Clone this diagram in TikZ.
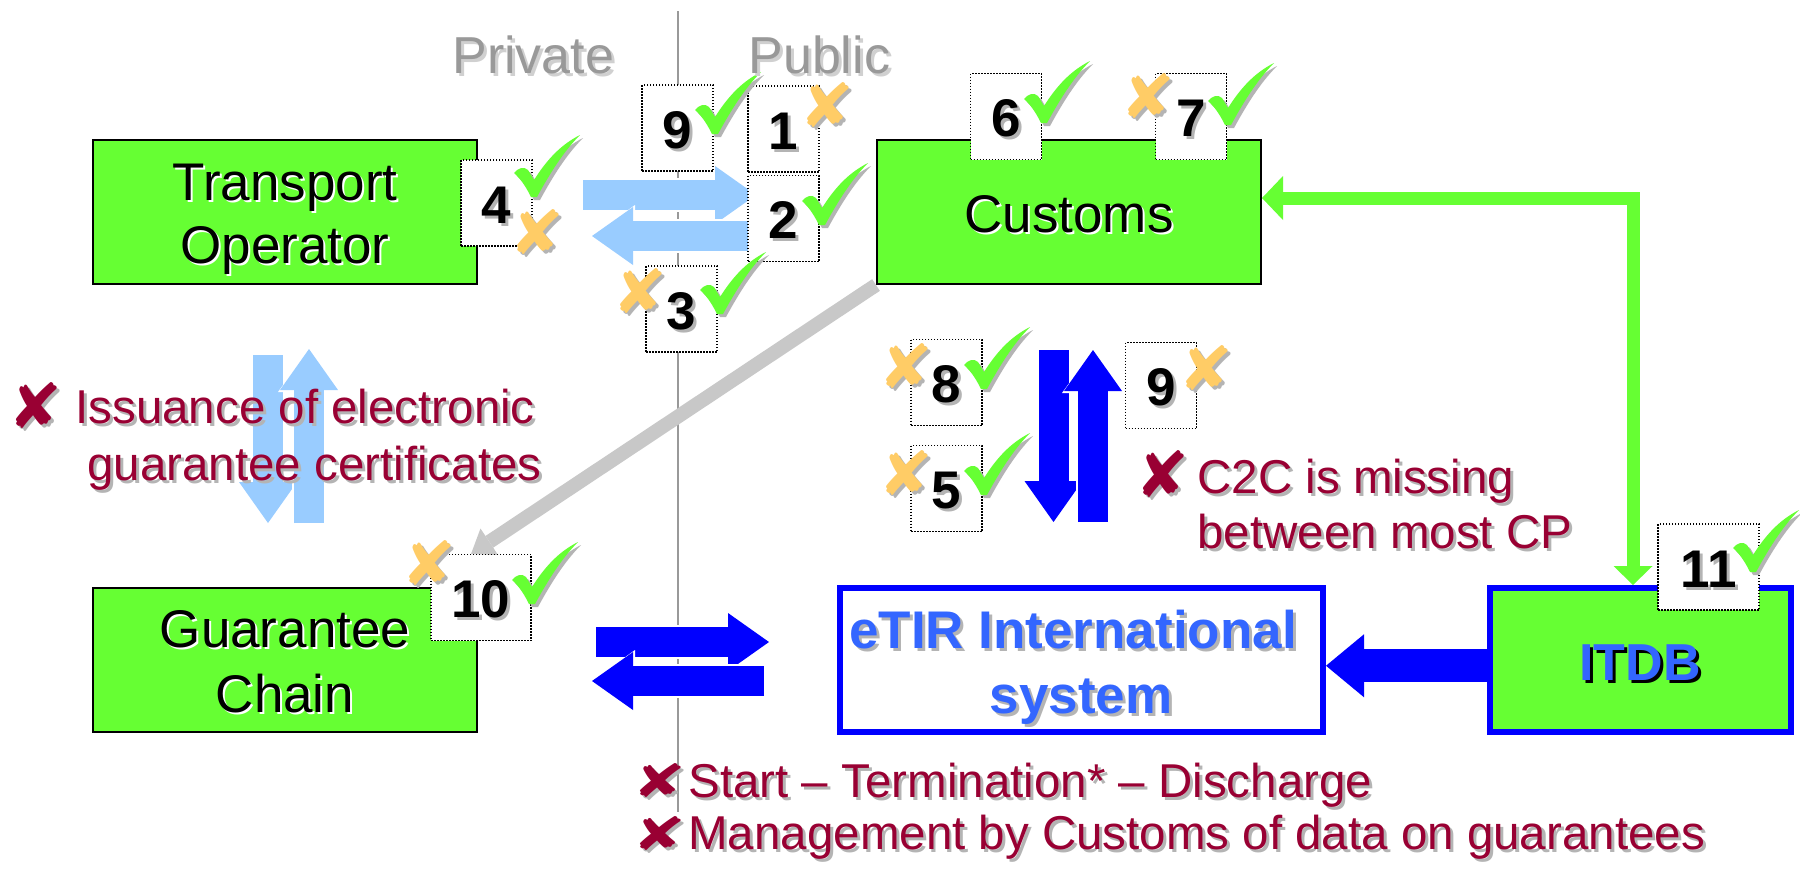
\documentclass[tikz,border=0pt]{standalone}
\usepackage{fontspec}
\setmainfont{Liberation Sans}
\newfontfamily\dejavu{DejaVu Sans}
\usetikzlibrary{arrows.meta,calc}
\definecolor{boxgreen}{HTML}{66FF33}
\definecolor{lblue}{HTML}{99CCFF}
\definecolor{dblue}{HTML}{0000FF}
\definecolor{tblue}{HTML}{3366FF}
\definecolor{wine}{HTML}{990033}
\definecolor{xorange}{HTML}{FFCC66}
\definecolor{shgray}{HTML}{B4B4B4}
\definecolor{divgray}{HTML}{999999}
\definecolor{lightsh}{HTML}{D0D0D0}
\definecolor{diaggray}{HTML}{C8C8C8}
\newcommand\shtext[3]{\leavevmode\rlap{\kern#2\raisebox{-#2}{\textcolor{#1}{#3}}}#3}
\newcommand\numfont{\fontsize{26.5pt}{30pt}\selectfont\bfseries}
\newcommand\xmark[6]{%
  \node[xm,text=shgray] (#1s) at ($(#2,#3)+(0,3)$) {\resizebox{#5}{#6}{\dejavu\bfseries ✘}};
  \node[xm,text=#4] (#1) at ($(#2,#3)+(-3,0)$) {\resizebox{#5}{#6}{\dejavu\bfseries ✘}};}
\begin{document}
\begin{tikzpicture}[x=0.5pt,y=-0.5pt,
  greenbox/.style={draw=black,line width=1pt,fill=boxgreen,inner sep=0,minimum width=192pt,minimum height=72pt},
  bluebox/.style={draw=dblue,line width=3pt,inner sep=0,minimum height=71.75pt},
  numbox/.style={draw=black,line width=0.9pt,dash pattern=on 0.75pt off 0.75pt,fill=white,inner sep=0,minimum width=35.5pt,minimum height=43pt,text height=20pt,text depth=0pt,font=\numfont},
  boxtext/.style={inner sep=0,anchor=base,font=\fontsize{26.5pt}{30pt}\selectfont},
  bluetext/.style={inner sep=0,anchor=base,text=tblue,font=\fontsize{26.5pt}{30pt}\selectfont\bfseries},
  redtxt/.style={inner sep=0,anchor=base west,text=wine,font=\fontsize{23.75pt}{26pt}\selectfont},
  sidetxt/.style={inner sep=0,anchor=base west,text=divgray,font=\fontsize{26pt}{30pt}\selectfont},
  xm/.style={inner sep=0,anchor=north west},
  divider/.style={draw=divgray,line width=1pt},
  fat/.style={line width=15pt,-{Triangle[length=20.5pt,width=29pt,line width=0pt]},
    preaction={draw=white,line width=17pt,-{Triangle[length=21.5pt,width=31pt,line width=0pt]}}},
  gconn/.style={draw=boxgreen,line width=6.5pt,line join=miter,
    {Triangle[length=10.5pt,width=22pt,line width=0pt]}-{Triangle[length=9.5pt,width=19.5pt,line width=0pt]}},
  diag/.style={draw=diaggray,line width=7pt,-{Triangle[length=11pt,width=16pt,line width=0pt]}},
  chk/.pic={
    \fill[shgray] (3,41) .. controls (7,36) and (13,34) .. (17,38) -- (23,48) .. controls (35,29) and (49,13) .. (69,3) .. controls (52,20) and (38,43) .. (26,65) -- (20,65) .. controls (16,57) and (11,48) .. (3,41) -- cycle;
    \fill[boxgreen] (0,38) .. controls (4,33) and (10,31) .. (14,35) -- (20,45) .. controls (32,26) and (46,10) .. (66,0) .. controls (49,17) and (35,40) .. (23,62) -- (17,62) .. controls (13,54) and (8,45) .. (0,38) -- cycle;
  }
]
\useasboundingbox (0,0) rectangle (1800,869);
\fill[white] (0,0) rectangle (1800,869);

% divider
\coordinate (dtop) at (678,11);
\coordinate (dbot) at (678,812);
\draw[divider] (dtop) -- (dbot);

% main boxes
\node[greenbox] (to) at (285,212) {};
\node[boxtext] (tot1) at (285,200) {\shtext{white}{1pt}{Transport}};
\node[boxtext] (tot2) at (285,263) {\shtext{white}{1pt}{Operator}};
\node[greenbox] (cu) at (1069,212) {};
\node[boxtext] (cut) at (1069,232) {\shtext{white}{1pt}{Customs}};
\node[greenbox] (gc) at (285,660) {};
\node[boxtext] (gct1) at (285,647) {\shtext{white}{1pt}{Guarantee}};
\node[boxtext] (gct2) at (285,712) {\shtext{white}{1pt}{Chain}};
\node[bluebox,fill=white,minimum width=241.75pt] (etir) at (1081.25,659.75) {};
\node[bluetext] (etirt1) at (1073,648) {\shtext{shgray}{1.5pt}{eTIR International}};
\node[bluetext] (etirt2) at (1081,713) {\shtext{shgray}{1.5pt}{system}};
\node[bluebox,fill=boxgreen,minimum width=150.5pt] (itdb) at (1640.5,659.75) {};
\node[bluetext,font=\fontsize{26pt}{30pt}\selectfont\bfseries] (itdbt) at (1640,680) {\shtext{black}{1.5pt}{ITDB}};

% light blue arrows
\coordinate (lbr1) at (583,195);  \coordinate (lbr2) at (756,195);
\coordinate (lbl1) at (748,236);  \coordinate (lbl2) at (592,236);
\coordinate (lbd1) at (268,355);  \coordinate (lbd2) at (268,523);
\coordinate (lbu1) at (309,523);  \coordinate (lbu2) at (309,349);
\draw[fat,lblue] (lbr1) -- (lbr2);
\draw[fat,lblue] (lbl1) -- (lbl2);
\draw[fat,lblue] (lbd1) -- (lbd2);
\draw[fat,lblue] (lbu1) -- (lbu2);

% blue arrows
\coordinate (bd1) at (1053.5,350); \coordinate (bd2) at (1053.5,522);
\coordinate (bu1) at (1093,522);   \coordinate (bu2) at (1093,350);
\coordinate (br1) at (596,642);    \coordinate (br2) at (769,642);
\coordinate (bl1) at (764,681);    \coordinate (bl2) at (592,681);
\draw[fat,dblue] (bd1) -- (bd2);
\draw[fat,dblue] (bu1) -- (bu2);
\draw[fat,dblue] (br1) -- (br2);
\draw[fat,dblue] (bl1) -- (bl2);
\draw[dblue,line width=16.5pt,-{Triangle[length=19pt,width=31.5pt,line width=0pt]}] ([yshift=-3pt]itdb.west) -- ([yshift=-3pt]etir.east);

% green connector
\coordinate (gcorner) at (1633,198);
\draw[gconn] (cu.east |- gcorner) -- (gcorner) -- (gcorner |- itdb.north);

% gray diagonal
\coordinate (gtip) at (471,554);
\draw[diag] (cu.south west) -- (gtip);

% number boxes
\node[numbox] (n9a) at (677.5,128) {\shtext{shgray}{1.5pt}{9}};
\node[numbox] (n1) at (783.5,129) {\shtext{shgray}{1.5pt}{1}};
\node[numbox] (n2) at (783.5,218.5) {\shtext{shgray}{1.5pt}{2}};
\node[numbox] (n3) at (681.5,309) {\shtext{shgray}{1.5pt}{3}};
\node[numbox] (n4) at (496.5,203) {\shtext{shgray}{1.5pt}{4}};
\node[numbox] (n6) at (1006,116.5) {\shtext{shgray}{1.5pt}{6}};
\node[numbox] (n7) at (1191,116.5) {\shtext{shgray}{1.5pt}{7}};
\node[numbox] (n8) at (946.5,382.5) {\shtext{shgray}{1.5pt}{8}};
\node[numbox] (n5) at (946.5,488.5) {\shtext{shgray}{1.5pt}{5}};
\node[numbox] (n9b) at (1161,385.5) {\shtext{shgray}{1.5pt}{9}};
\node[numbox,minimum width=50pt] (n10) at (481,597.5) {\shtext{shgray}{1.5pt}{10}};
\node[numbox,minimum width=50.5pt] (n11) at (1708.5,567) {\shtext{shgray}{1.5pt}{11}};

% checks
\pic (c9a) at (695,72) {chk};
\pic (c2) at (802,163) {chk};
\pic (c3) at (700,252) {chk};
\pic (c4) at (514,135) {chk};
\pic (c6) at (1024,61) {chk};
\pic (c7) at (1208,63) {chk};
\pic (c8) at (964,327) {chk};
\pic (c5) at (964,433) {chk};
\pic (c10) at (512,542) {chk};
\pic (c11) at (1733,510) {chk};

% orange crosses
\xmark{x1}{802}{82}{xorange}{27.5pt}{22.5pt}
\xmark{x3}{615}{268}{xorange}{27.5pt}{22.5pt}
\xmark{x4}{512}{209}{xorange}{27.5pt}{22.5pt}
\xmark{x7}{1123}{73}{xorange}{27.5pt}{22.5pt}
\xmark{x8}{881}{343}{xorange}{27.5pt}{22.5pt}
\xmark{x5}{881}{450}{xorange}{27.5pt}{22.5pt}
\xmark{x9b}{1181}{345}{xorange}{27.5pt}{22.5pt}
\xmark{x10}{404}{540}{xorange}{27.5pt}{22.5pt}

% side labels
\node[sidetxt] (priv) at (452,73) {\shtext{lightsh}{1.5pt}{Private}};
\node[sidetxt] (pub) at (748,73) {\shtext{lightsh}{1.5pt}{Public}};

% red notes
\xmark{r1}{11}{382}{wine}{27pt}{23pt}
\node[redtxt] (iss1) at (75,423) {\shtext{shgray}{1.5pt}{Issuance of electronic}};
\node[redtxt] (iss2) at (87,480) {\shtext{shgray}{1.5pt}{guarantee certificates}};
\xmark{r2}{1138}{450}{wine}{27pt}{23.5pt}
\node[redtxt] (c2c1) at (1197,493) {\shtext{shgray}{1.5pt}{C2C is missing}};
\node[redtxt] (c2c2) at (1197,548) {\shtext{shgray}{1.5pt}{between most CP}};
\xmark{r3}{635}{763}{wine}{27pt}{17pt}
\node[redtxt] (st) at (688,797) {\shtext{shgray}{1.5pt}{Start – Termination* – Discharge}};
\xmark{r4}{635}{816}{wine}{27pt}{17pt}
\node[redtxt] (mg) at (688,849) {\shtext{shgray}{1.5pt}{Management by Customs of data on guarantees}};
\end{tikzpicture}
\end{document}
